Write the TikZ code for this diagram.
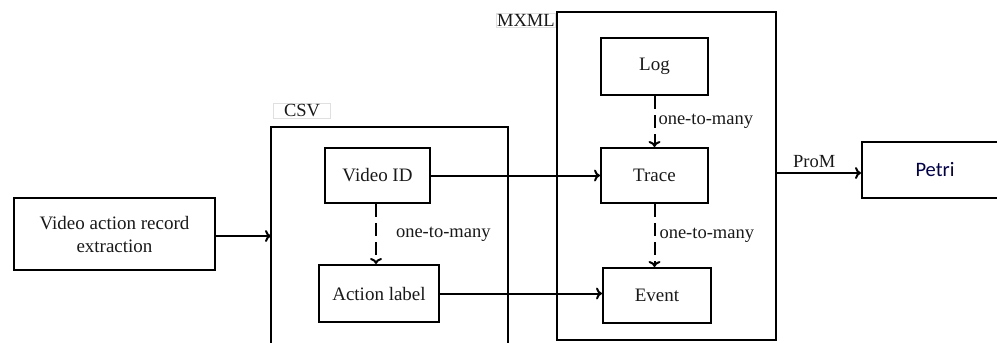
\documentclass[tikz,border=0pt]{standalone}
\usepackage{fontspec}
\setmainfont{Liberation Serif}
\newfontfamily\petrifont{Carlito}
\usetikzlibrary{arrows.meta}
\begin{document}
\begin{tikzpicture}[x=1pt,y=-1pt,
  box/.style={draw=black,line width=2pt,inner sep=0pt,font=\fontsize{19}{23}\selectfont,text=black!90},
  frame/.style={draw=black,line width=2pt},
  arr/.style={line width=2pt,-{To[length=6pt,width=12pt,line width=2pt]}},
  darr/.style={arr,dash pattern=on 13pt off 6pt},
  lbl/.style={font=\fontsize{18.5}{22}\selectfont,text=black!90,inner sep=1pt},
  ttl/.style={font=\fontsize{18.5}{22}\selectfont,text=black!90,draw=black!12,line width=0.6pt,inner sep=1pt,minimum width=57pt}]
\useasboundingbox (0,0) rectangle (997,343);
\clip (0,0) rectangle (997,343);
% containers
\draw[frame] (271,127) rectangle (508,360);
\node[ttl] (csvt) at (302,111) {CSV};
\draw[frame] (557,12) rectangle (776,340);
\coordinate (mxr) at (776,173);
\node[ttl,anchor=east] (mxt) at (556,20) {MXML};
% nodes
\node[box,minimum width=201pt,minimum height=72pt,align=center] (var) at (114.5,234) {Video action record\\extraction};
\coordinate (csvl) at (271,236);
\node[box,minimum width=105pt,minimum height=55pt] (vid) at (377.5,175.5) {Video ID};
\node[box,minimum width=120pt,minimum height=57pt] (act) at (379,293.5) {Action label};
\node[box,minimum width=107pt,minimum height=57pt] (log) at (654.5,66.5) {Log};
\node[box,minimum width=107pt,minimum height=55pt] (trc) at (654.5,175.5) {Trace};
\node[box,minimum width=108pt,minimum height=55pt] (evt) at (657,295.5) {Event};
\node[box,minimum width=160pt,minimum height=56pt,font=\petrifont\fontsize{20.5}{24}\selectfont,text=black!70!blue] (pet) at (942,170) {\hspace*{-14pt}Petri};
% connectors
\draw[arr] (var.east |- csvl) -- (csvl);
\draw[arr] (vid.east) -- (trc.west);
\draw[arr] (act.east) -- (act.east -| evt.west);
\draw[darr] (vid.south -| 376,0) -- (act.north -| 376,0) node[lbl,pos=0.5,right=18pt] {one-to-many};
\draw[darr] (log.south) -- (trc.north) node[lbl,pos=0.5,right=2pt] {one-to-many};
\draw[darr] (trc.south) -- (evt.north -| trc.south) node[lbl,pos=0.5,right=3pt] {one-to-many};
\draw[arr] (mxr) -- (mxr -| pet.west) node[lbl,pos=0.45,above=3pt] {ProM};
\end{tikzpicture}
\end{document}
